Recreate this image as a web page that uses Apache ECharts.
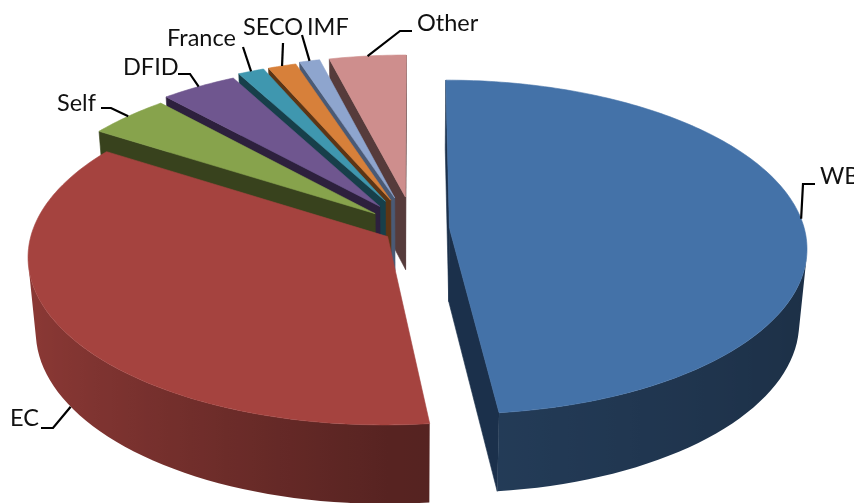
<!DOCTYPE html>
<html>
<head>
<meta charset="utf-8">
<style>html,body{margin:0;padding:0;background:#fff}#c{width:854px;height:503px}</style>
<script src="https://cdn.jsdelivr.net/npm/echarts@6/dist/echarts.min.js"></script>
</head>
<body>
<div id="c"></div>
<script>
// Data: share of funding by source (percent)
const categories = ['WB', 'EC', 'Self', 'DFID', 'France', 'SECO', 'IMF', 'Other'];
const shares = [48.2, 35.9, 4.2, 3.9, 1.35, 1.45, 1.05, 3.95];

// Styles
const topColors = ['#4472A8', '#A5433F', '#87A34C', '#6F568F', '#3F97AF', '#D7803A', '#8EA5CE', '#CE8E8D'];
const faceColors = ['#1B304B', '#5A2422', '#38421D', '#2D203D', '#173F4A', '#5C3515', '#4A5A75', '#563B3B'];
const explode = [0.10, 0.087, 0.145, 0.17, 0.19, 0.19, 0.20, 0.20];

// Label layout: where each callout's text and bends sit, and whether it attaches at the base of the wall
const labelAnchors = [[820, 176], [10, 418], [57, 103], [123, 67], [167, 38], [243, 27], [307, 27], [417, 23]];
const leaderBends = [
  [[803, 184], [815, 184]],
  [[53, 428], [41, 428]],
  [[111, 108], [101, 108]],
  [[190, 74], [178, 74]],
  [[243, 47]],
  [[283, 43]],
  [[302, 35]],
  [[400, 31], [412, 31]]
];
const leaderOnBase = [false, true, false, false, false, false, false, false];

// Perspective camera for the tilted disk
const cam = { cx: 414, cy: 229, sx: 355, sy: 165, h: 75, p: 0.114, q: 0.02 };
const rad = Math.PI / 180;
function project(X, Y, base) {
  const d = base ? 1 : 0;
  const g = 1 / (1 - cam.p * Y + cam.q * d);
  return [cam.cx + cam.sx * X * g, cam.cy + (cam.sy * Y + cam.h * d) * g];
}
function area(pts) {
  let a = 0;
  for (let i = 0; i < pts.length; i++) {
    const u = pts[i], v = pts[(i + 1) % pts.length];
    a += u[0] * v[1] - v[0] * u[1];
  }
  return a;
}
function wallShade(deg) {
  const s = Math.sin(deg * rad);
  return s < 0 ? 0.53 - 0.32 * s : 0.53 - 0.11 * s;
}
function shade(hex, f) {
  const n = parseInt(hex.slice(1), 16);
  const c = [n >> 16, (n >> 8) & 255, n & 255].map(v => Math.round(v * f));
  return 'rgb(' + c.join(',') + ')';
}
const total = shares.reduce((a, b) => a + b, 0);
const startAngles = [];
shares.reduce((acc, v, i) => { startAngles[i] = acc; return acc + v / total * 360; }, 0);

function renderSlice(params, api) {
  const i = api.value(1);
  const a0 = startAngles[i];
  const a1 = a0 + api.value(0) / total * 360;
  const mid = (a0 + a1) / 2;
  const ax = explode[i] * Math.sin(mid * rad);
  const ay = -explode[i] * Math.cos(mid * rad);
  const rim = (deg, base) => project(ax + Math.sin(deg * rad), ay - Math.cos(deg * rad), base);
  const steps = Math.max(6, Math.ceil((a1 - a0) / 2));
  const children = [];
  const poly = (points, color) => children.push({
    type: 'polygon', silent: true, shape: { points: points },
    style: { fill: color, stroke: color, lineWidth: 0.6 }
  });
  const apexT = project(ax, ay, false), apexB = project(ax, ay, true);

  // radial cut faces
  const f0 = [apexT, rim(a0, false), rim(a0, true), apexB];
  if (area(f0) < 0) poly(f0, faceColors[i]);
  const f1 = [apexT, apexB, rim(a1, true), rim(a1, false)];
  if (area(f1) < 0) poly(f1, faceColors[i]);

  // outer wall: the visible strips merged into one shape with a sideways gradient
  const tops = [], bases = [], shades = [];
  for (let s = 0; s < steps; s++) {
    const d0 = a0 + (a1 - a0) * s / steps, d1 = a0 + (a1 - a0) * (s + 1) / steps;
    const q = [rim(d0, false), rim(d1, false), rim(d1, true), rim(d0, true)];
    if (area(q) < 0) {
      if (!tops.length) { tops.push(q[0]); bases.push(q[3]); shades.push(wallShade(d0)); }
      tops.push(q[1]); bases.push(q[2]); shades.push(wallShade(d1));
    }
  }
  if (tops.length > 1) {
    const xs = tops.map(p => p[0]);
    const x0 = Math.min.apply(null, xs), x1 = Math.max.apply(null, xs);
    const stops = xs.map((x, k) => ({ offset: (x - x0) / (x1 - x0), color: shade(topColors[i], shades[k]) }))
      .sort((u, v) => u.offset - v.offset);
    children.push({
      type: 'polygon', silent: true,
      shape: { points: tops.concat(bases.slice().reverse()) },
      style: { fill: { type: 'linear', x: x0, y: 0, x2: x1, y2: 0, global: true, colorStops: stops } }
    });
  }

  // top face
  const topPts = [apexT];
  for (let s = 0; s <= steps * 2; s++) topPts.push(rim(a0 + (a1 - a0) * s / (steps * 2), false));
  poly(topPts, topColors[i]);

  // callout
  const anchor = rim(mid, leaderOnBase[i]);
  children.push({
    type: 'polyline', silent: true, shape: { points: [anchor].concat(leaderBends[i]) },
    style: { fill: 'none', stroke: '#000', lineWidth: 2.2 }
  });
  children.push({
    type: 'text', silent: true,
    style: {
      text: categories[i], x: labelAnchors[i][0], y: labelAnchors[i][1],
      fill: '#111', font: '23.5px Lato', align: 'left', verticalAlign: 'middle'
    }
  });
  return { type: 'group', children: children };
}

// Painter's order: far slices first, nearest last
const drawOrder = categories.map((_, i) => i).reverse();

const chart = echarts.init(document.getElementById('c'), null, { renderer: 'canvas' });
chart.setOption({
  animation: false,
  backgroundColor: '#fff',
  series: [{
    type: 'custom',
    coordinateSystem: 'none',
    renderItem: renderSlice,
    silent: true,
    clip: false,
    data: drawOrder.map(i => ({ name: categories[i], value: [shares[i], i] }))
  }]
});
</script>
</body>
</html>
